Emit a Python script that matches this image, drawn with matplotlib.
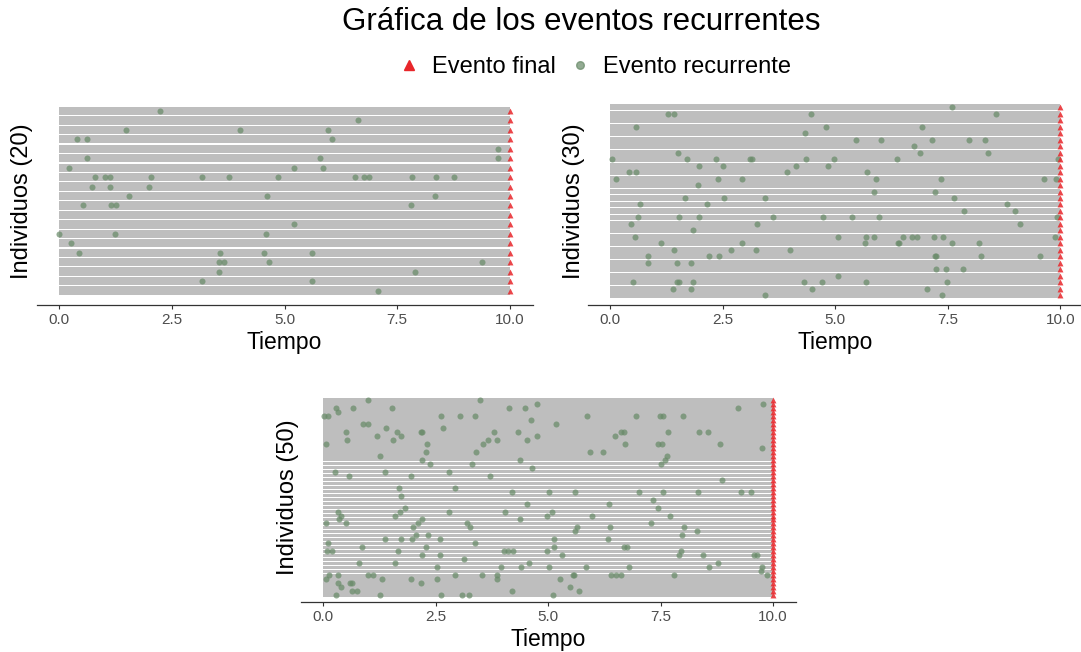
import matplotlib
matplotlib.use("Agg")
import matplotlib.pyplot as plt
from matplotlib.lines import Line2D

plt.rcParams['font.family'] = ['Liberation Sans', 'DejaVu Sans']

# ---------------- data ----------------
title = "Gráfica de los eventos recurrentes"
legend_labels = ["Evento final", "Evento recurrente"]
x_label = "Tiempo"
x_ticks = [0, 2.5, 5, 7.5, 10]
x_tick_labels = ["0.0", "2.5", "5.0", "7.5", "10.0"]
end_time = 10.0

# recurrent event times per individual, listed from the top row to the bottom row
events_20 = [
    [2.23], [6.64], [1.48, 4.02, 5.96], [0.39, 0.63, 6.05], [9.73],
    [0.61, 5.79, 9.73], [0.23, 5.20, 5.85],
    [0.79, 1.03, 1.14, 2.05, 3.18, 3.76, 4.86, 6.56, 6.77, 6.87, 7.83, 8.35, 8.77],
    [0.72, 1.14, 2.00], [1.56, 4.62, 8.33], [0.54, 1.16, 1.26, 7.80], [],
    [5.20], [0.01, 1.23, 4.58], [0.27], [0.45, 3.56, 4.55, 5.60],
    [3.54, 3.65, 4.66, 9.39], [3.54, 7.89], [3.18, 5.60], [7.07],
]

events_30 = [
    [7.60], [1.29, 1.42, 4.47, 8.57], [], [0.58, 4.80, 6.93], [4.32],
    [5.47, 6.02, 7.15, 7.97, 8.33], [6.75], [1.50, 6.89, 8.39],
    [0.04, 1.70, 2.35, 3.10, 3.16, 4.34, 4.97, 6.36, 9.94],
    [1.97, 2.51, 4.12, 4.83], [0.42, 0.58, 3.92, 5.71],
    [0.13, 2.39, 2.94, 5.91, 7.35, 9.63, 9.90], [1.95], [5.87, 7.22],
    [1.66, 2.54, 3.43, 7.64], [0.66, 2.15, 8.81], [7.86, 8.99],
    [0.62, 1.53, 1.97, 3.61, 4.73, 5.38, 5.97, 9.92], [0.46, 3.27, 9.10],
    [1.84], [0.55, 5.05, 5.69, 5.85, 6.51, 6.71, 6.82, 7.20, 7.40, 9.87],
    [1.13, 2.92, 5.65, 6.40, 6.42, 7.60, 8.19], [1.42, 2.68, 3.25, 4.00],
    [0.84, 2.19, 2.43, 7.22, 7.24, 8.24, 9.54], [0.84, 1.48, 1.79],
    [7.24, 7.46, 7.84], [5.07], [0.51, 1.48, 1.53, 1.84, 4.31, 4.71, 5.69, 7.49],
    [1.39, 1.79, 4.49, 7.04], [3.43, 7.37],
]

events_50 = [
    [0.99, 3.49], [4.75, 9.78], [0.28, 0.66, 1.53, 4.13, 4.49, 9.22], [0.34],
    [0.03, 0.12, 2.62, 3.04, 3.38, 5.86, 6.95, 7.48, 7.55, 7.99], [4.62],
    [0.88, 1.01, 5.17], [1.39, 2.66],
    [0.50, 1.64, 2.17, 2.21, 3.80, 4.33, 6.62, 6.68, 7.67, 8.36, 8.56],
    [1.21, 1.73, 4.76, 6.49], [0.53, 1.56, 3.67, 3.86, 4.53],
    [0.06, 2.30, 3.56, 6.71, 7.44, 7.53, 8.82], [9.76], [2.28, 3.39, 5.93, 6.22],
    [1.27, 7.64], [2.19, 4.38, 7.61], [2.38, 3.30, 7.51], [4.64],
    [0.26, 1.37, 2.80], [0.57, 1.96, 3.70], [8.86], [], [1.68, 2.93],
    [4.19, 5.02, 5.60, 7.02, 7.55, 8.34, 9.29, 9.51], [1.73], [7.33],
    [4.53, 6.36], [1.82, 7.45], [0.34, 1.71, 2.80, 4.04, 5.08],
    [0.41, 1.61, 4.98, 5.97, 7.71], [0.36, 2.19, 4.38],
    [0.06, 0.50, 2.10, 3.19, 7.29], [1.99, 3.27, 5.64, 6.38, 8.02], [5.60, 8.30],
    [2.06, 2.33, 7.98], [1.38, 1.74, 1.98, 2.60, 5.14, 6.33], [0.10, 3.38],
    [0.86, 2.28, 5.14, 6.69, 6.75], [0.08, 0.21, 1.67, 4.02, 4.11, 4.23, 4.98, 7.95],
    [2.21, 2.60, 5.30, 7.90, 8.44, 9.58, 9.65], [3.13], [0.79, 1.61, 4.58, 8.78],
    [2.54, 3.95, 4.39, 5.02, 5.84, 6.80, 8.58, 9.76], [9.73],
    [0.13, 0.33, 1.01, 1.10, 2.93, 3.53, 3.86, 5.55, 5.58, 6.39, 6.50, 6.62, 7.80, 9.86],
    [0.06, 1.30, 1.96, 2.53, 3.86, 5.27], [0.33, 0.60, 0.65, 2.18], [0.41, 5.49],
    [0.65, 0.75, 4.19, 5.69], [0.28, 1.27, 2.62, 3.08, 3.24, 5.10],
]

# ---------------- style ----------------
W, H = 1081, 652
BAR = '#BEBEBE'
GREEN = '#698B69'
RED = '#E8262A'
TICK_COLOR = '#4D4D4D'

fig = plt.figure(figsize=(W / 100, H / 100), dpi=100)


def px_axes(left, right, top, bottom):
    return fig.add_axes([left / W, 1 - bottom / H, (right - left) / W, (bottom - top) / H])


def draw_panel(events, left, right, top, bottom, pad, ylabel_x, bar_h):
    n = len(events)
    ax = px_axes(left, right, top, bottom)
    ys = [n - i for i in range(n)]
    ax.barh(ys, [end_time] * n, left=0, height=bar_h, color=BAR, linewidth=0, zorder=1)
    px_, py_ = [], []
    for y, ev in zip(ys, events):
        for t in ev:
            px_.append(t)
            py_.append(y)
    ax.scatter(px_, py_, s=19, color=GREEN, alpha=0.72, linewidths=0, zorder=2)
    ax.scatter([end_time] * n, ys, s=18, marker='^', color=RED, alpha=0.85,
               linewidths=0, zorder=3)
    ax.set_xlim(-0.5, 10.5)
    ax.set_ylim(1 - pad, n + pad)
    for s in ('left', 'right', 'top'):
        ax.spines[s].set_visible(False)
    ax.spines['bottom'].set_color('#333333')
    ax.spines['bottom'].set_linewidth(0.9)
    ax.set_yticks([])
    ax.set_xticks(x_ticks)
    ax.set_xticklabels(x_tick_labels)
    ax.tick_params(axis='x', length=3, width=0.8, color='#333333', pad=3,
                   labelsize=11, labelcolor=TICK_COLOR)
    ax.patch.set_alpha(0)
    cx = (left + right) / 2
    fig.text(cx / W, 1 - (bottom + 38) / H, x_label, ha='center', va='center', fontsize=16.5)
    fig.text(ylabel_x / W, 1 - ((top + bottom) / 2) / H, f"Individuos ({n})",
             rotation=90, ha='center', va='center', fontsize=17)
    return ax


draw_panel(events_20, 36.5, 532.5, 97, 304.5, 1.48, 22, 0.88)
draw_panel(events_30, 587.5, 1083, 98, 304.5, 1.45, 574, 0.9)
draw_panel(events_50, 300.5, 795.5, 393.6, 601.5, 1.55, 288, 0.93)

fig.text(581 / W, 1 - 22 / H, title, ha='center', va='center', fontsize=22.5)

handles = [
    Line2D([], [], marker='^', linestyle='none', color=RED, markersize=6.5),
    Line2D([], [], marker='o', linestyle='none', color=GREEN, alpha=0.72, markersize=5.5),
]
fig.legend(handles, legend_labels, loc='center', bbox_to_anchor=(595 / W, 1 - 67 / H),
           ncol=2, frameon=False, fontsize=17, handlelength=0.8, handletextpad=0.58,
           columnspacing=0.62, borderpad=0, borderaxespad=0)

fig.savefig('out.png', dpi=100)
